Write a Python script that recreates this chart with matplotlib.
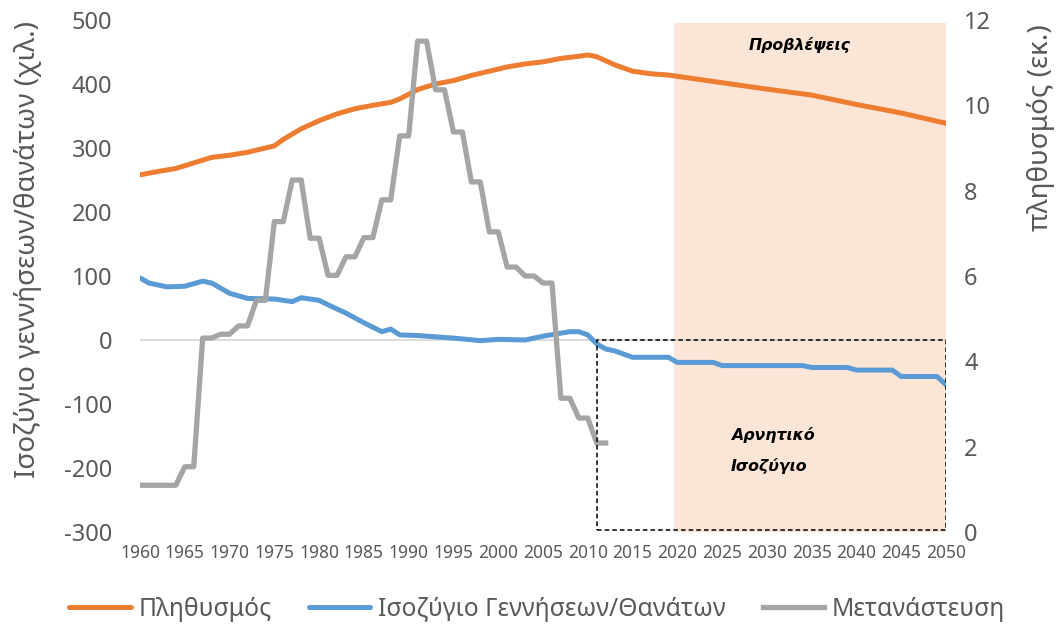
import matplotlib
matplotlib.use("Agg")
import matplotlib.pyplot as plt
from matplotlib.patches import Rectangle

plt.rcParams['font.family'] = ['Noto Sans', 'DejaVu Sans']
plt.rcParams['axes.unicode_minus'] = False

# population (millions), right axis
pop_years = [1960, 1962, 1964, 1966, 1968, 1970, 1972, 1974, 1975, 1976, 1978,
             1980, 1982, 1984, 1986, 1988, 1989, 1991, 1993, 1995, 1997, 1999,
             2001, 2003, 2005, 2007, 2009, 2010, 2011, 2013, 2015, 2017, 2019,
             2020, 2025, 2030, 2035, 2040, 2045, 2050]
pop_values = [8.37, 8.45, 8.52, 8.65, 8.78, 8.83, 8.90, 9.00, 9.05, 9.20, 9.45,
              9.64, 9.80, 9.92, 10.00, 10.07, 10.15, 10.37, 10.50, 10.58, 10.70, 10.80,
              10.90, 10.97, 11.02, 11.10, 11.15, 11.18, 11.14, 10.95, 10.80, 10.74, 10.71,
              10.68, 10.53, 10.38, 10.24, 10.02, 9.82, 9.58]

# births minus deaths (thousands), left axis
bal_years = [1960, 1961, 1963, 1965, 1967, 1968, 1970, 1972, 1975, 1977, 1978,
             1980, 1981, 1983, 1985, 1987, 1988, 1989, 1991, 1993, 1995, 1998,
             2000, 2003, 2005, 2008, 2009, 2010, 2011, 2012, 2013, 2015, 2019,
             2020, 2024, 2025, 2034, 2035, 2039, 2040, 2044, 2045, 2049, 2050]
bal_values = [97, 89, 83, 84, 92, 89, 73, 65, 64, 60, 66,
              62, 55, 42, 27, 13, 17, 8, 7, 5, 3, -1,
              1, 0, 6, 13, 13, 8, -6, -14, -17, -27, -27,
              -35, -35, -40, -40, -43, -43, -47, -47, -57, -57, -70]

# net migration (thousands), left axis
mig_years = list(range(1960, 2013))
mig_values = [-227, -227, -227, -227, -227, -198, -198, 3, 3, 9, 9, 22, 22,
              62, 62, 185, 185, 250, 250, 159, 159, 101, 101, 130, 130,
              160, 160, 219, 219, 319, 319, 467, 467, 391, 391, 325, 325,
              247, 247, 169, 169, 114, 114, 100, 100, 89, 89, -91, -91,
              -122, -122, -161, -161]

labels = ['Πληθυσμός', 'Ισοζύγιο Γεννήσεων/Θανάτων', 'Μετανάστευση']
colors = ['#ED7D31', '#5B9BD5', '#A5A5A5']
tick_grey = '#595959'

fig = plt.figure(figsize=(10.63, 6.24), dpi=100)
ax = fig.add_axes([140 / 1063, 1 - 532 / 624, (946 - 140) / 1063, 512 / 624])
ax2 = ax.twinx()
# left axis lines drawn above the right axis ones
ax.set_zorder(2)
ax.patch.set_visible(False)
ax2.set_zorder(1)

# forecast shading and population line on the right axis
ax2.axvspan(2019.6, 2050, ymin=0, ymax=0.994, color='#FBE5D6', lw=0, zorder=0)
l1, = ax2.plot(pop_years, pop_values, color=colors[0], lw=3.6,
               solid_capstyle='round', label=labels[0], zorder=3)

ax.axhline(0, color='#D9D9D9', lw=1.3, zorder=1)
l2, = ax.plot(bal_years, bal_values, color=colors[1], lw=3.6,
              solid_capstyle='round', label=labels[1], zorder=3)
l3, = ax.plot(mig_years, mig_values, color=colors[2], lw=3.8,
              label=labels[2], zorder=4)

ax.add_patch(Rectangle((2011, -297), 39, 297, fill=False, ec='black',
                       lw=1.1, ls=(0, (3, 2)), zorder=5))

note = dict(fontsize=11.3, fontweight='bold', fontstyle='italic', color='black',
            family='DejaVu Sans', va='center')
ax.text(2033.7, 461, 'Προβλέψεις', ha='center', **note)
ax.text(2026.0, -148, 'Αρνητικό', ha='left', **note)
ax.text(2026.0, -197, 'Ισοζύγιο', ha='left', **note)

ax.set_xlim(1960, 2050)
ax.set_ylim(-300, 500)
ax2.set_ylim(0, 12)
ax.set_xticks(range(1960, 2051, 5))
ax.set_yticks(range(-300, 501, 100))
ax2.set_yticks(range(0, 13, 2))

for a in (ax, ax2):
    for s in a.spines.values():
        s.set_visible(False)
ax.tick_params(axis='x', length=0, pad=9, labelsize=12.5, labelcolor=tick_grey)
ax.tick_params(axis='y', length=0, pad=20, labelsize=17, labelcolor=tick_grey)
ax2.tick_params(axis='y', length=0, pad=13, labelsize=17, labelcolor=tick_grey)

ax.set_ylabel('Ισοζύγιο γεννήσεων/θανάτων (χιλ.)', fontsize=20, color=tick_grey)
ax.yaxis.set_label_coords(-0.122, 0.551)
ax2.set_ylabel('πληθυσμός (εκ.)', fontsize=20, color=tick_grey)
ax2.yaxis.set_label_coords(1.1, 0.789)

fig.legend([l1, l2, l3], labels, loc='center', bbox_to_anchor=(537 / 1063, 1 - 609 / 624),
           ncol=3, frameon=False, fontsize=17.8, handlelength=2.5, handletextpad=0.3,
           columnspacing=1.5, labelcolor=tick_grey)

fig.savefig('out.png', dpi=100)
